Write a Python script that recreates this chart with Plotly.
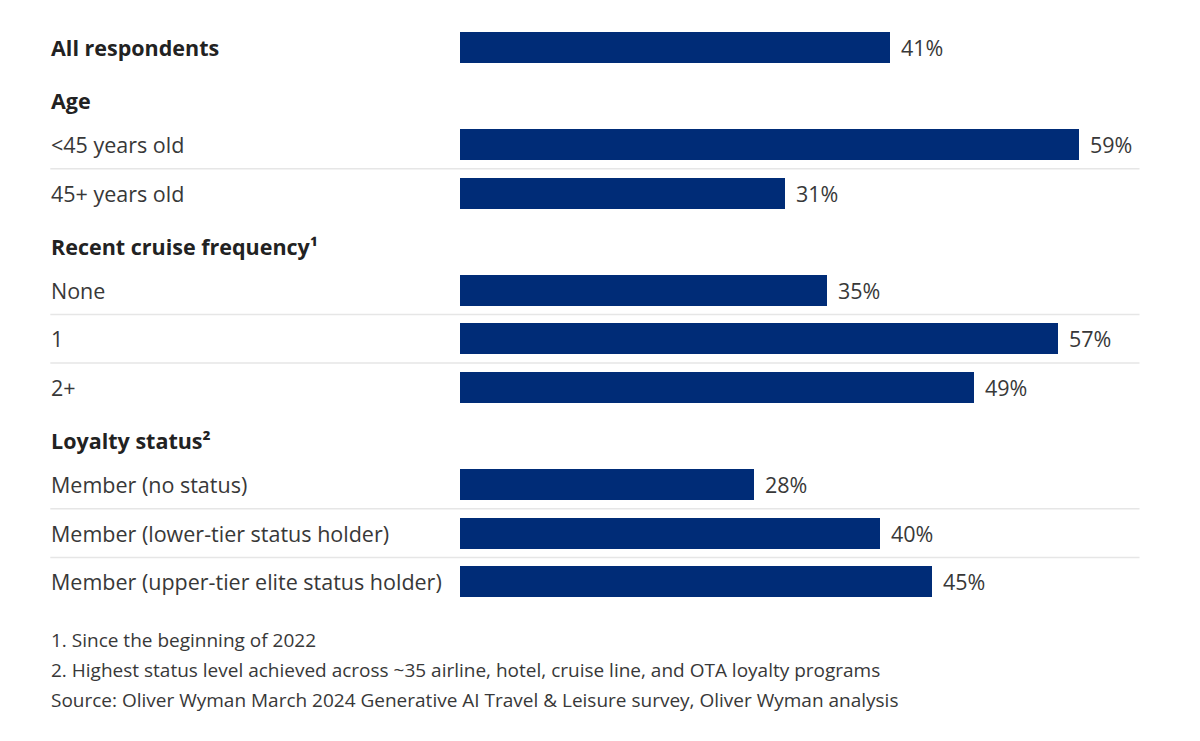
import plotly.graph_objects as go

# Data
rows = [
    "All respondents",
    "Age",
    "<45 years old",
    "45+ years old",
    "Recent cruise frequency¹",
    "None",
    "1",
    "2+",
    "Loyalty status²",
    "Member (no status)",
    "Member (lower-tier status holder)",
    "Member (upper-tier elite status holder)",
]
values = [41, None, 59, 31, None, 35, 57, 49, None, 28, 40, 45]
is_header = [True, True, False, False, True, False, False, False, True, False, False, False]
footnotes = [
    "1. Since the beginning of 2022",
    "2. Highest status level achieved across ~35 airline, hotel, cruise line, and OTA loyalty programs",
    "Source: Oliver Wyman March 2024 Generative AI Travel & Leisure survey, Oliver Wyman analysis",
]

BAR = "#002C77"
TXT = "#383838"
FONT = "Open Sans"

idx = list(range(len(rows)))
bar_y = [i for i, v in zip(idx, values) if v is not None]
bar_x = [v for v in values if v is not None]

fig = go.Figure()
fig.add_trace(go.Bar(
    x=bar_x, y=bar_y, orientation="h",
    marker=dict(color=BAR, line=dict(width=0)),
    width=0.64, hoverinfo="skip",
))

W, H = 1200, 741
left, right_px = 460, 1142.5
pw = right_px - left
xmin_paper = (50 - left) / pw
xmax_paper = (1140 - left) / pw

annotations = []
for i, (lab, hdr) in enumerate(zip(rows, is_header)):
    annotations.append(dict(
        x=xmin_paper, xref="paper", y=i, yref="y", xanchor="left", yanchor="middle",
        text=f"<b>{lab}</b>" if hdr else lab, showarrow=False,
        font=dict(family=FONT, size=21.5, color="#222222" if hdr else TXT),
        yshift=-5 if (hdr and i > 0) else 0, xshift=-1,
    ))
for y, v in zip(bar_y, bar_x):
    annotations.append(dict(
        x=v, xref="x", y=y, yref="y", xanchor="left", yanchor="middle",
        text=f"{v}%", showarrow=False, xshift=9,
        font=dict(family=FONT, size=21.5, color=TXT),
    ))
for k, t in enumerate(footnotes):
    annotations.append(dict(
        x=xmin_paper, xref="paper", y=-(640 + 30 * k - 606.3) / 583.6, yref="paper",
        xanchor="left", yanchor="middle", text=t, showarrow=False, xshift=-1,
        font=dict(family=FONT, size=19, color=TXT),
    ))

shapes = []
for s in [2.5, 5.5, 6.5, 9.5, 10.5]:
    shapes.append(dict(type="line", xref="paper", x0=xmin_paper, x1=xmax_paper,
                       yref="y", y0=s, y1=s, line=dict(color="#E6E6E6", width=1.5)))

fig.update_layout(
    width=W, height=H,
    margin=dict(l=left, r=W - right_px, t=22.7, b=H - 606.3, pad=0),
    paper_bgcolor="white", plot_bgcolor="white",
    showlegend=False,
    xaxis=dict(range=[0, 65], visible=False, fixedrange=True),
    yaxis=dict(range=[11.5, -0.5], visible=False, fixedrange=True),
    annotations=annotations, shapes=shapes,
    bargap=0,
)

fig.write_html("out.html", config={"displayModeBar": False})
